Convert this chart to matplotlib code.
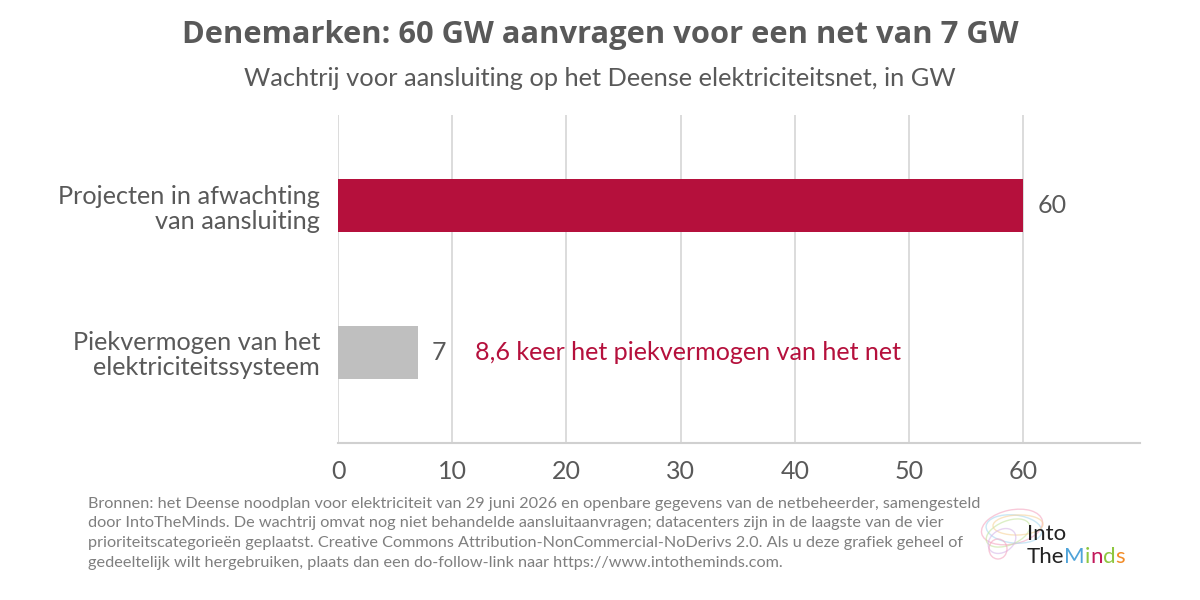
import matplotlib
matplotlib.use("Agg")
import matplotlib.pyplot as plt
from matplotlib.patches import Ellipse

categories = ["Projecten in afwachting\nvan aansluiting", "Piekvermogen van het\nelektriciteitssysteem"]
values = [60, 7]
bar_colors = ["#B5103C", "#BFBFBF"]
xticks = [0, 10, 20, 30, 40, 50, 60]

title = "Denemarken: 60 GW aanvragen voor een net van 7 GW"
subtitle = "Wachtrij voor aansluiting op het Deense elektriciteitsnet, in GW"
annotation = "8,6 keer het piekvermogen van het net"
footer = ("Bronnen: het Deense noodplan voor elektriciteit van 29 juni 2026 en openbare gegevens van de netbeheerder, samengesteld\n"
          "door IntoTheMinds. De wachtrij omvat nog niet behandelde aansluitaanvragen; datacenters zijn in de laagste van de vier\n"
          "prioriteitscategorieën geplaatst. Creative Commons Attribution-NonCommercial-NoDerivs 2.0. Als u deze grafiek geheel of\n"
          "gedeeltelijk wilt hergebruiken, plaats dan een do-follow-link naar https://www.intotheminds.com.")

TXT = "#595959"
plt.rcParams['font.family'] = ['Lato', 'DejaVu Sans']

fig = plt.figure(figsize=(12, 6), dpi=100)
ax = fig.add_axes([338/1200, 1-443/600, (1140-338)/1200, (443-115)/600])

ypos = [0, 1]
ax.barh(ypos, values, height=0.36, color=bar_colors, zorder=3)
ax.set_ylim(1.62, -0.62)
ax.set_xlim(0, 70.2)
ax.set_xticks(xticks)
ax.set_xticklabels([str(t) for t in xticks], fontsize=18, color=TXT)
ax.set_yticks(ypos)
ax.set_yticklabels(categories, fontsize=18.2, color=TXT, linespacing=1.1)
ax.tick_params(axis='y', length=0, pad=13)
ax.tick_params(axis='x', length=0, pad=12)
ax.grid(axis='x', color="#D9D9D9", linewidth=1.3, zorder=0)
for s in ['top', 'right', 'left']:
    ax.spines[s].set_visible(False)
ax.spines['bottom'].set_color("#D0D0D0")
ax.spines['bottom'].set_linewidth(1.5)

for y, v in zip(ypos, values):
    ax.text(v + 1.2, y, str(v), va='center', ha='left', fontsize=18, color=TXT)

ax.text(12.0, 1, annotation, va='center', ha='left', fontsize=18.1, color="#B5103C")

fig.text(0.5, 1-35/600, title, ha='center', va='center', fontsize=22.2, fontweight='bold',
         color=TXT, family=['Open Sans', 'DejaVu Sans'])
fig.text(0.5, 1-78/600, subtitle, ha='center', va='center', fontsize=18.3, color=TXT)

fig.text(88/1200, 1-497/600, footer, ha='left', va='top', fontsize=11.7, color="#7F7F7F",
         linespacing=1.5)

# logo: faint brain swirl + text
lax = fig.add_axes([972/1200, 1-575/600, 75/1200, 75/600], zorder=-1)
lax.set_xlim(0, 75); lax.set_ylim(0, 75); lax.axis('off')
swirl = [(40, 48, 62, 34, 12, "#F4A6C0"), (42, 46, 56, 28, -6, "#A8D8F0"),
         (36, 42, 46, 24, 22, "#C6E5A0"), (46, 50, 50, 20, 2, "#F7D39A"),
         (30, 34, 30, 22, 35, "#D7B8E8"), (26, 26, 18, 20, 0, "#F4A6C0")]
for cx, cy, w, h, ang, col in swirl:
    lax.add_patch(Ellipse((cx, cy), w, h, angle=ang, fill=False, ec=col, lw=1.0, alpha=0.6))

fig.text(1027/1200, 1-534/600, "Into", ha='left', va='center', fontsize=16,
         color="#222222")
lx = 1027/1200
parts = [("The", "#222222"), ("M", "#4FA3D9"), ("i", "#8DC63F"), ("n", "#C2185B"), ("d", "#8DC63F"), ("s", "#F28C28")]
r = fig.canvas.get_renderer()
for s, c in parts:
    t = fig.text(lx, 1-557/600, s, ha='left', va='center', fontsize=16, color=c)
    bb = t.get_window_extent(renderer=r)
    lx += bb.width / 1200

fig.savefig("out.png", dpi=100, facecolor="white")
